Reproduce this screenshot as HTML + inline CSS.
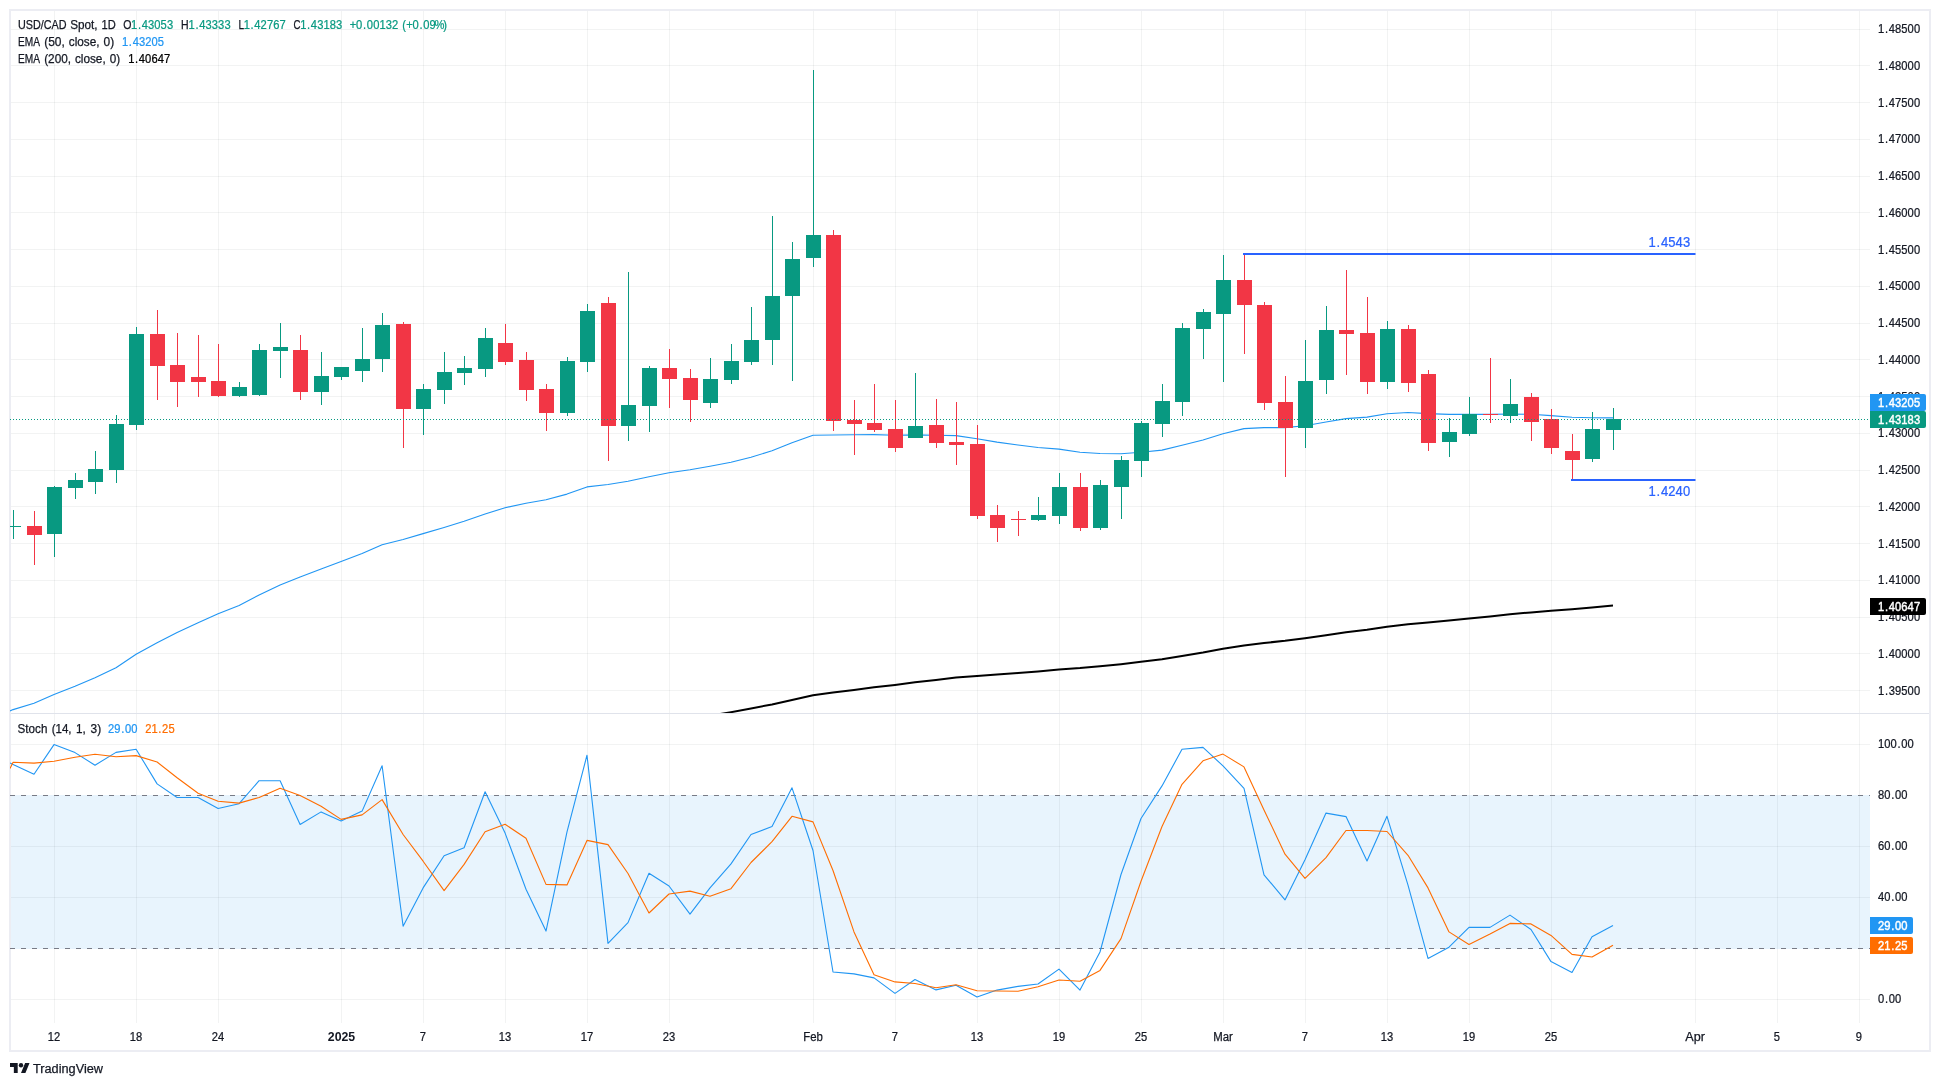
<!DOCTYPE html>
<html><head><meta charset="utf-8"><title>USD/CAD Spot 1D</title>
<style>html,body{margin:0;padding:0;background:#fff;}body{width:1940px;height:1086px;overflow:hidden;}svg{display:block;will-change:transform;}text{font-family:"Liberation Sans", sans-serif;paint-order:stroke;stroke-linejoin:round;}</style>
</head><body>
<svg width="1940" height="1086" viewBox="0 0 1940 1086">
<rect width="1940" height="1086" fill="#ffffff"/>
<defs><clipPath id="cm"><rect x="10" y="11" width="1860" height="702"/></clipPath><clipPath id="cs"><rect x="10" y="714" width="1860" height="309"/></clipPath></defs>
<rect x="10" y="10" width="1920" height="1041" fill="none" stroke="#ecedf3" stroke-width="2" shape-rendering="crispEdges"/>
<rect x="11" y="795" width="1859" height="154" fill="#e8f4fd"/>
<g shape-rendering="crispEdges" fill="rgba(42,46,57,0.06)">
<rect x="54" y="11" width="1" height="1012"/>
<rect x="136" y="11" width="1" height="1012"/>
<rect x="218" y="11" width="1" height="1012"/>
<rect x="341" y="11" width="1" height="1012"/>
<rect x="423" y="11" width="1" height="1012"/>
<rect x="505" y="11" width="1" height="1012"/>
<rect x="587" y="11" width="1" height="1012"/>
<rect x="669" y="11" width="1" height="1012"/>
<rect x="813" y="11" width="1" height="1012"/>
<rect x="895" y="11" width="1" height="1012"/>
<rect x="977" y="11" width="1" height="1012"/>
<rect x="1059" y="11" width="1" height="1012"/>
<rect x="1141" y="11" width="1" height="1012"/>
<rect x="1223" y="11" width="1" height="1012"/>
<rect x="1305" y="11" width="1" height="1012"/>
<rect x="1387" y="11" width="1" height="1012"/>
<rect x="1469" y="11" width="1" height="1012"/>
<rect x="1551" y="11" width="1" height="1012"/>
<rect x="1695" y="11" width="1" height="1012"/>
<rect x="1777" y="11" width="1" height="1012"/>
<rect x="1859" y="11" width="1" height="1012"/>
<rect x="11" y="29" width="1859" height="1"/>
<rect x="11" y="65" width="1859" height="1"/>
<rect x="11" y="102" width="1859" height="1"/>
<rect x="11" y="139" width="1859" height="1"/>
<rect x="11" y="176" width="1859" height="1"/>
<rect x="11" y="212" width="1859" height="1"/>
<rect x="11" y="249" width="1859" height="1"/>
<rect x="11" y="286" width="1859" height="1"/>
<rect x="11" y="323" width="1859" height="1"/>
<rect x="11" y="359" width="1859" height="1"/>
<rect x="11" y="396" width="1859" height="1"/>
<rect x="11" y="433" width="1859" height="1"/>
<rect x="11" y="470" width="1859" height="1"/>
<rect x="11" y="506" width="1859" height="1"/>
<rect x="11" y="543" width="1859" height="1"/>
<rect x="11" y="580" width="1859" height="1"/>
<rect x="11" y="617" width="1859" height="1"/>
<rect x="11" y="653" width="1859" height="1"/>
<rect x="11" y="690" width="1859" height="1"/>
<rect x="11" y="744" width="1859" height="1"/>
<rect x="11" y="846" width="1859" height="1"/>
<rect x="11" y="897" width="1859" height="1"/>
<rect x="11" y="999" width="1859" height="1"/>
</g>
<rect x="11" y="713" width="1918" height="1" fill="#e0e3eb" shape-rendering="crispEdges"/>
<g clip-path="url(#cm)">
<polyline fill="none" stroke="#2196f3" stroke-width="1.1" stroke-linejoin="round" points="10.0,710.9 13.1,709.6 34.0,703.2 54.0,694.6 75.0,686.3 95.0,677.8 116.0,667.7 136.1,654.3 157.1,642.8 177.1,632.4 198.1,622.8 218.1,613.7 239.1,605.4 259.1,595.0 280.1,584.9 300.1,576.9 321.1,569.1 341.1,561.4 362.1,553.6 382.1,544.8 403.1,539.5 423.1,533.6 444.1,527.5 464.1,521.3 485.1,514.1 505.1,507.7 526.0,503.2 546.0,499.7 567.0,494.1 587.0,486.9 608.0,484.5 628.0,481.3 649.0,476.7 669.0,472.7 690.0,469.8 710.0,466.3 731.0,462.3 751.0,457.2 772.0,450.8 792.0,442.8 813.0,435.3 833.0,435.0 854.0,434.8 874.0,434.6 895.0,435.2 915.0,434.9 936.0,435.2 956.0,435.6 977.0,438.8 997.0,442.1 1018.0,445.0 1038.0,447.5 1059.0,449.1 1080.0,452.2 1100.0,453.5 1121.0,453.7 1141.0,452.3 1162.0,450.1 1182.0,445.3 1203.0,440.0 1223.0,433.7 1244.0,428.6 1264.0,427.6 1285.0,427.6 1305.0,425.8 1326.0,422.0 1346.0,418.6 1367.0,417.1 1387.0,413.7 1408.0,412.5 1428.0,413.6 1449.0,414.4 1469.0,414.4 1490.0,414.4 1510.0,414.0 1531.0,414.3 1551.0,415.6 1572.0,417.3 1592.0,417.8 1613.0,417.9"/>
<polyline fill="none" stroke="#000000" stroke-width="2" stroke-linejoin="round" points="649.0,725.8 669.0,722.3 690.0,719.1 710.0,715.7 731.0,712.2 751.0,708.5 772.0,704.4 792.0,699.9 813.0,695.3 833.0,692.6 854.0,689.9 874.0,687.3 895.0,684.9 915.0,682.3 936.0,679.9 956.0,677.6 977.0,676.0 997.0,674.5 1018.0,673.0 1038.0,671.4 1059.0,669.5 1080.0,668.1 1100.0,666.3 1121.0,664.2 1141.0,661.8 1162.0,659.2 1182.0,655.9 1203.0,652.5 1223.0,648.8 1244.0,645.4 1264.0,643.0 1285.0,640.8 1305.0,638.2 1326.0,635.2 1346.0,632.2 1367.0,629.7 1387.0,626.7 1408.0,624.2 1428.0,622.4 1449.0,620.5 1469.0,618.5 1490.0,616.4 1510.0,614.3 1531.0,612.4 1551.0,610.8 1572.0,609.3 1592.0,607.5 1613.0,605.6"/>
<g shape-rendering="crispEdges">
<rect x="13" y="510" width="1" height="29" fill="#089981"/>
<rect x="6" y="526" width="15" height="1" fill="#089981"/>
<rect x="34" y="511" width="1" height="54" fill="#f23645"/>
<rect x="27" y="526" width="15" height="9" fill="#f23645"/>
<rect x="54" y="486" width="1" height="71" fill="#089981"/>
<rect x="47" y="487" width="15" height="47" fill="#089981"/>
<rect x="75" y="473" width="1" height="26" fill="#089981"/>
<rect x="68" y="480" width="15" height="8" fill="#089981"/>
<rect x="95" y="451" width="1" height="43" fill="#089981"/>
<rect x="88" y="469" width="15" height="13" fill="#089981"/>
<rect x="116" y="415" width="1" height="68" fill="#089981"/>
<rect x="109" y="424" width="15" height="46" fill="#089981"/>
<rect x="136" y="327" width="1" height="103" fill="#089981"/>
<rect x="129" y="334" width="15" height="91" fill="#089981"/>
<rect x="157" y="310" width="1" height="90" fill="#f23645"/>
<rect x="150" y="334" width="15" height="32" fill="#f23645"/>
<rect x="177" y="333" width="1" height="74" fill="#f23645"/>
<rect x="170" y="365" width="15" height="17" fill="#f23645"/>
<rect x="198" y="335" width="1" height="62" fill="#f23645"/>
<rect x="191" y="377" width="15" height="5" fill="#f23645"/>
<rect x="218" y="344" width="1" height="53" fill="#f23645"/>
<rect x="211" y="381" width="15" height="15" fill="#f23645"/>
<rect x="239" y="382" width="1" height="15" fill="#089981"/>
<rect x="232" y="387" width="15" height="9" fill="#089981"/>
<rect x="259" y="344" width="1" height="52" fill="#089981"/>
<rect x="252" y="350" width="15" height="45" fill="#089981"/>
<rect x="280" y="323" width="1" height="55" fill="#089981"/>
<rect x="273" y="347" width="15" height="4" fill="#089981"/>
<rect x="300" y="335" width="1" height="65" fill="#f23645"/>
<rect x="293" y="350" width="15" height="42" fill="#f23645"/>
<rect x="321" y="352" width="1" height="53" fill="#089981"/>
<rect x="314" y="376" width="15" height="16" fill="#089981"/>
<rect x="341" y="367" width="1" height="13" fill="#089981"/>
<rect x="334" y="367" width="15" height="10" fill="#089981"/>
<rect x="362" y="328" width="1" height="54" fill="#089981"/>
<rect x="355" y="359" width="15" height="12" fill="#089981"/>
<rect x="382" y="313" width="1" height="59" fill="#089981"/>
<rect x="375" y="325" width="15" height="34" fill="#089981"/>
<rect x="403" y="322" width="1" height="126" fill="#f23645"/>
<rect x="396" y="324" width="15" height="85" fill="#f23645"/>
<rect x="423" y="384" width="1" height="51" fill="#089981"/>
<rect x="416" y="389" width="15" height="20" fill="#089981"/>
<rect x="444" y="352" width="1" height="52" fill="#089981"/>
<rect x="437" y="372" width="15" height="18" fill="#089981"/>
<rect x="464" y="356" width="1" height="29" fill="#089981"/>
<rect x="457" y="368" width="15" height="5" fill="#089981"/>
<rect x="485" y="328" width="1" height="49" fill="#089981"/>
<rect x="478" y="338" width="15" height="31" fill="#089981"/>
<rect x="505" y="324" width="1" height="41" fill="#f23645"/>
<rect x="498" y="343" width="15" height="19" fill="#f23645"/>
<rect x="526" y="352" width="1" height="49" fill="#f23645"/>
<rect x="519" y="360" width="15" height="30" fill="#f23645"/>
<rect x="546" y="384" width="1" height="47" fill="#f23645"/>
<rect x="539" y="389" width="15" height="24" fill="#f23645"/>
<rect x="567" y="357" width="1" height="59" fill="#089981"/>
<rect x="560" y="361" width="15" height="52" fill="#089981"/>
<rect x="587" y="304" width="1" height="68" fill="#089981"/>
<rect x="580" y="311" width="15" height="51" fill="#089981"/>
<rect x="608" y="297" width="1" height="164" fill="#f23645"/>
<rect x="601" y="303" width="15" height="123" fill="#f23645"/>
<rect x="628" y="272" width="1" height="169" fill="#089981"/>
<rect x="621" y="405" width="15" height="21" fill="#089981"/>
<rect x="649" y="366" width="1" height="66" fill="#089981"/>
<rect x="642" y="368" width="15" height="38" fill="#089981"/>
<rect x="669" y="349" width="1" height="59" fill="#f23645"/>
<rect x="662" y="368" width="15" height="11" fill="#f23645"/>
<rect x="690" y="369" width="1" height="53" fill="#f23645"/>
<rect x="683" y="378" width="15" height="22" fill="#f23645"/>
<rect x="710" y="358" width="1" height="50" fill="#089981"/>
<rect x="703" y="379" width="15" height="24" fill="#089981"/>
<rect x="731" y="344" width="1" height="40" fill="#089981"/>
<rect x="724" y="361" width="15" height="19" fill="#089981"/>
<rect x="751" y="307" width="1" height="58" fill="#089981"/>
<rect x="744" y="340" width="15" height="22" fill="#089981"/>
<rect x="772" y="216" width="1" height="149" fill="#089981"/>
<rect x="765" y="296" width="15" height="44" fill="#089981"/>
<rect x="792" y="242" width="1" height="139" fill="#089981"/>
<rect x="785" y="259" width="15" height="37" fill="#089981"/>
<rect x="813" y="70" width="1" height="197" fill="#089981"/>
<rect x="806" y="235" width="15" height="23" fill="#089981"/>
<rect x="833" y="230" width="1" height="201" fill="#f23645"/>
<rect x="826" y="235" width="15" height="186" fill="#f23645"/>
<rect x="854" y="400" width="1" height="55" fill="#f23645"/>
<rect x="847" y="420" width="15" height="4" fill="#f23645"/>
<rect x="874" y="384" width="1" height="48" fill="#f23645"/>
<rect x="867" y="423" width="15" height="7" fill="#f23645"/>
<rect x="895" y="400" width="1" height="52" fill="#f23645"/>
<rect x="888" y="429" width="15" height="19" fill="#f23645"/>
<rect x="915" y="373" width="1" height="65" fill="#089981"/>
<rect x="908" y="426" width="15" height="12" fill="#089981"/>
<rect x="936" y="399" width="1" height="49" fill="#f23645"/>
<rect x="929" y="425" width="15" height="18" fill="#f23645"/>
<rect x="956" y="402" width="1" height="63" fill="#f23645"/>
<rect x="949" y="442" width="15" height="3" fill="#f23645"/>
<rect x="977" y="425" width="1" height="94" fill="#f23645"/>
<rect x="970" y="444" width="15" height="72" fill="#f23645"/>
<rect x="997" y="505" width="1" height="37" fill="#f23645"/>
<rect x="990" y="515" width="15" height="13" fill="#f23645"/>
<rect x="1018" y="511" width="1" height="25" fill="#f23645"/>
<rect x="1011" y="519" width="15" height="1" fill="#f23645"/>
<rect x="1038" y="497" width="1" height="24" fill="#089981"/>
<rect x="1031" y="515" width="15" height="5" fill="#089981"/>
<rect x="1059" y="473" width="1" height="51" fill="#089981"/>
<rect x="1052" y="487" width="15" height="29" fill="#089981"/>
<rect x="1080" y="473" width="1" height="58" fill="#f23645"/>
<rect x="1073" y="487" width="15" height="41" fill="#f23645"/>
<rect x="1100" y="480" width="1" height="50" fill="#089981"/>
<rect x="1093" y="485" width="15" height="43" fill="#089981"/>
<rect x="1121" y="456" width="1" height="63" fill="#089981"/>
<rect x="1114" y="460" width="15" height="27" fill="#089981"/>
<rect x="1141" y="421" width="1" height="56" fill="#089981"/>
<rect x="1134" y="423" width="15" height="38" fill="#089981"/>
<rect x="1162" y="384" width="1" height="53" fill="#089981"/>
<rect x="1155" y="401" width="15" height="23" fill="#089981"/>
<rect x="1182" y="323" width="1" height="93" fill="#089981"/>
<rect x="1175" y="328" width="15" height="74" fill="#089981"/>
<rect x="1203" y="309" width="1" height="50" fill="#089981"/>
<rect x="1196" y="312" width="15" height="17" fill="#089981"/>
<rect x="1223" y="255" width="1" height="127" fill="#089981"/>
<rect x="1216" y="280" width="15" height="34" fill="#089981"/>
<rect x="1244" y="254" width="1" height="100" fill="#f23645"/>
<rect x="1237" y="280" width="15" height="25" fill="#f23645"/>
<rect x="1264" y="302" width="1" height="108" fill="#f23645"/>
<rect x="1257" y="305" width="15" height="98" fill="#f23645"/>
<rect x="1285" y="376" width="1" height="101" fill="#f23645"/>
<rect x="1278" y="402" width="15" height="26" fill="#f23645"/>
<rect x="1305" y="340" width="1" height="108" fill="#089981"/>
<rect x="1298" y="381" width="15" height="47" fill="#089981"/>
<rect x="1326" y="306" width="1" height="88" fill="#089981"/>
<rect x="1319" y="330" width="15" height="50" fill="#089981"/>
<rect x="1346" y="270" width="1" height="105" fill="#f23645"/>
<rect x="1339" y="330" width="15" height="4" fill="#f23645"/>
<rect x="1367" y="297" width="1" height="97" fill="#f23645"/>
<rect x="1360" y="333" width="15" height="49" fill="#f23645"/>
<rect x="1387" y="321" width="1" height="68" fill="#089981"/>
<rect x="1380" y="329" width="15" height="53" fill="#089981"/>
<rect x="1408" y="325" width="1" height="67" fill="#f23645"/>
<rect x="1401" y="329" width="15" height="54" fill="#f23645"/>
<rect x="1428" y="370" width="1" height="81" fill="#f23645"/>
<rect x="1421" y="374" width="15" height="69" fill="#f23645"/>
<rect x="1449" y="418" width="1" height="39" fill="#089981"/>
<rect x="1442" y="432" width="15" height="10" fill="#089981"/>
<rect x="1469" y="397" width="1" height="39" fill="#089981"/>
<rect x="1462" y="414" width="15" height="20" fill="#089981"/>
<rect x="1490" y="358" width="1" height="65" fill="#f23645"/>
<rect x="1483" y="414" width="15" height="1" fill="#f23645"/>
<rect x="1510" y="379" width="1" height="44" fill="#089981"/>
<rect x="1503" y="404" width="15" height="12" fill="#089981"/>
<rect x="1531" y="393" width="1" height="48" fill="#f23645"/>
<rect x="1524" y="397" width="15" height="25" fill="#f23645"/>
<rect x="1551" y="409" width="1" height="45" fill="#f23645"/>
<rect x="1544" y="419" width="15" height="29" fill="#f23645"/>
<rect x="1572" y="434" width="1" height="46" fill="#f23645"/>
<rect x="1565" y="451" width="15" height="9" fill="#f23645"/>
<rect x="1592" y="412" width="1" height="50" fill="#089981"/>
<rect x="1585" y="429" width="15" height="30" fill="#089981"/>
<rect x="1613" y="408" width="1" height="42" fill="#089981"/>
<rect x="1606" y="419" width="15" height="11" fill="#089981"/>
</g>
<line x1="10" y1="419.5" x2="1870" y2="419.5" stroke="#089981" stroke-width="1" stroke-dasharray="1 2" shape-rendering="crispEdges"/>
<rect x="1243" y="253" width="452.5" height="2" fill="#2962ff"/>
<rect x="1571" y="479" width="124.5" height="2" fill="#2962ff"/>
</g>
<text transform="scale(0.93,1)" x="1772.53 1781.18 1785.94 1793.84 1801.73 1809.63" y="247" font-size="14" fill="#2962ff" stroke="#2962ff" stroke-width="0.25">1.4543</text>
<text transform="scale(0.93,1)" x="1772.53 1781.18 1785.94 1793.84 1801.73 1809.63" y="496" font-size="14" fill="#2962ff" stroke="#2962ff" stroke-width="0.25">1.4240</text>
<g clip-path="url(#cs)">
<g shape-rendering="crispEdges" stroke="#787b86" stroke-width="1" stroke-dasharray="5 6">
<line x1="10" y1="795.5" x2="1870" y2="795.5"/>
<line x1="10" y1="948.5" x2="1870" y2="948.5"/>
</g>
<polyline fill="none" stroke="#2196f3" stroke-width="1.1" stroke-linejoin="round" points="10.0,763.0 13.1,764.4 34.0,774.3 54.0,744.6 75.0,752.6 95.0,765.2 116.0,752.4 136.1,749.2 157.1,783.9 177.1,797.5 198.1,797.5 218.1,808.5 239.1,803.7 259.1,780.7 280.1,780.7 300.1,824.5 321.1,811.9 341.1,821.0 362.1,811.1 382.1,765.7 403.1,926.2 423.1,887.9 444.1,855.8 464.1,847.8 485.1,791.8 505.1,833.1 526.0,889.2 546.0,931.1 567.0,831.8 587.0,755.2 608.0,943.4 628.0,922.6 649.0,873.2 669.0,886.0 690.0,914.1 710.0,887.9 731.0,863.9 751.0,834.5 772.0,826.5 792.0,787.8 813.0,850.5 833.0,972.0 854.0,973.9 874.0,977.9 895.0,993.4 915.0,979.5 936.0,989.9 956.0,985.3 977.0,997.1 997.0,990.1 1018.0,986.4 1038.0,984.0 1059.0,969.1 1080.0,990.1 1100.0,952.0 1121.0,874.5 1141.0,818.5 1162.0,785.9 1182.0,749.3 1203.0,747.4 1223.0,765.9 1244.0,788.3 1264.0,874.8 1285.0,899.9 1305.0,859.8 1326.0,813.1 1346.0,816.6 1367.0,860.9 1387.0,816.3 1408.0,885.2 1428.0,958.4 1449.0,947.2 1469.0,927.4 1490.0,927.4 1510.0,915.1 1531.0,929.5 1551.0,961.6 1572.0,972.5 1592.0,936.7 1613.0,925.5"/>
<polyline fill="none" stroke="#ff6d00" stroke-width="1.1" stroke-linejoin="round" points="10.0,768.4 13.1,762.3 34.0,763.1 54.0,761.2 75.0,757.2 95.0,754.3 116.0,756.7 136.1,755.6 157.1,762.0 177.1,777.8 198.1,793.2 218.1,801.2 239.1,803.1 259.1,797.5 280.1,788.2 300.1,795.4 321.1,806.3 341.1,819.4 362.1,814.9 382.1,799.6 403.1,834.5 423.1,861.2 444.1,890.6 464.1,864.4 485.1,831.8 505.1,824.3 526.0,838.2 546.0,884.4 567.0,884.9 587.0,840.4 608.0,844.6 628.0,873.5 649.0,913.0 669.0,894.0 690.0,891.1 710.0,896.2 731.0,888.7 751.0,862.5 772.0,841.7 792.0,816.3 813.0,821.9 833.0,870.5 854.0,931.9 874.0,974.7 895.0,981.9 915.0,983.5 936.0,987.8 956.0,984.8 977.0,990.7 997.0,991.0 1018.0,991.2 1038.0,986.7 1059.0,980.0 1080.0,981.3 1100.0,970.4 1121.0,938.6 1141.0,881.2 1162.0,826.5 1182.0,784.3 1203.0,760.8 1223.0,754.1 1244.0,766.9 1264.0,809.9 1285.0,854.2 1305.0,878.3 1326.0,857.7 1346.0,830.5 1367.0,830.5 1387.0,831.5 1408.0,855.3 1428.0,887.9 1449.0,931.9 1469.0,944.5 1490.0,934.1 1510.0,923.4 1531.0,923.9 1551.0,935.4 1572.0,954.4 1592.0,957.0 1613.0,945.3"/>
</g>
<g font-size="12" fill="#131722" stroke="#131722" stroke-width="0.25">
<text transform="scale(0.93,1)" x="2019.40 2026.82 2030.90 2037.67 2044.43 2051.20 2057.97" y="33" font-size="12" fill="#131722" stroke="#131722" stroke-width="0.25">1.48500</text>
<text transform="scale(0.93,1)" x="2019.40 2026.82 2030.90 2037.67 2044.43 2051.20 2057.97" y="70" font-size="12" fill="#131722" stroke="#131722" stroke-width="0.25">1.48000</text>
<text transform="scale(0.93,1)" x="2019.40 2026.82 2030.90 2037.67 2044.43 2051.20 2057.97" y="107" font-size="12" fill="#131722" stroke="#131722" stroke-width="0.25">1.47500</text>
<text transform="scale(0.93,1)" x="2019.40 2026.82 2030.90 2037.67 2044.43 2051.20 2057.97" y="143" font-size="12" fill="#131722" stroke="#131722" stroke-width="0.25">1.47000</text>
<text transform="scale(0.93,1)" x="2019.40 2026.82 2030.90 2037.67 2044.43 2051.20 2057.97" y="180" font-size="12" fill="#131722" stroke="#131722" stroke-width="0.25">1.46500</text>
<text transform="scale(0.93,1)" x="2019.40 2026.82 2030.90 2037.67 2044.43 2051.20 2057.97" y="217" font-size="12" fill="#131722" stroke="#131722" stroke-width="0.25">1.46000</text>
<text transform="scale(0.93,1)" x="2019.40 2026.82 2030.90 2037.67 2044.43 2051.20 2057.97" y="254" font-size="12" fill="#131722" stroke="#131722" stroke-width="0.25">1.45500</text>
<text transform="scale(0.93,1)" x="2019.40 2026.82 2030.90 2037.67 2044.43 2051.20 2057.97" y="290" font-size="12" fill="#131722" stroke="#131722" stroke-width="0.25">1.45000</text>
<text transform="scale(0.93,1)" x="2019.40 2026.82 2030.90 2037.67 2044.43 2051.20 2057.97" y="327" font-size="12" fill="#131722" stroke="#131722" stroke-width="0.25">1.44500</text>
<text transform="scale(0.93,1)" x="2019.40 2026.82 2030.90 2037.67 2044.43 2051.20 2057.97" y="364" font-size="12" fill="#131722" stroke="#131722" stroke-width="0.25">1.44000</text>
<text transform="scale(0.93,1)" x="2019.40 2026.82 2030.90 2037.67 2044.43 2051.20 2057.97" y="401" font-size="12" fill="#131722" stroke="#131722" stroke-width="0.25">1.43500</text>
<text transform="scale(0.93,1)" x="2019.40 2026.82 2030.90 2037.67 2044.43 2051.20 2057.97" y="437" font-size="12" fill="#131722" stroke="#131722" stroke-width="0.25">1.43000</text>
<text transform="scale(0.93,1)" x="2019.40 2026.82 2030.90 2037.67 2044.43 2051.20 2057.97" y="474" font-size="12" fill="#131722" stroke="#131722" stroke-width="0.25">1.42500</text>
<text transform="scale(0.93,1)" x="2019.40 2026.82 2030.90 2037.67 2044.43 2051.20 2057.97" y="511" font-size="12" fill="#131722" stroke="#131722" stroke-width="0.25">1.42000</text>
<text transform="scale(0.93,1)" x="2019.40 2026.82 2030.90 2037.67 2044.43 2051.20 2057.97" y="548" font-size="12" fill="#131722" stroke="#131722" stroke-width="0.25">1.41500</text>
<text transform="scale(0.93,1)" x="2019.40 2026.82 2030.90 2037.67 2044.43 2051.20 2057.97" y="584" font-size="12" fill="#131722" stroke="#131722" stroke-width="0.25">1.41000</text>
<text transform="scale(0.93,1)" x="2019.40 2026.82 2030.90 2037.67 2044.43 2051.20 2057.97" y="621" font-size="12" fill="#131722" stroke="#131722" stroke-width="0.25">1.40500</text>
<text transform="scale(0.93,1)" x="2019.40 2026.82 2030.90 2037.67 2044.43 2051.20 2057.97" y="658" font-size="12" fill="#131722" stroke="#131722" stroke-width="0.25">1.40000</text>
<text transform="scale(0.93,1)" x="2019.40 2026.82 2030.90 2037.67 2044.43 2051.20 2057.97" y="695" font-size="12" fill="#131722" stroke="#131722" stroke-width="0.25">1.39500</text>
<text transform="scale(0.93,1)" x="2019.40 2026.17 2032.93 2040.35 2044.43 2051.20" y="748" font-size="12" fill="#131722" stroke="#131722" stroke-width="0.25">100.00</text>
<text transform="scale(0.93,1)" x="2019.40 2026.17 2033.59 2037.67 2044.43" y="799" font-size="12" fill="#131722" stroke="#131722" stroke-width="0.25">80.00</text>
<text transform="scale(0.93,1)" x="2019.40 2026.17 2033.59 2037.67 2044.43" y="850" font-size="12" fill="#131722" stroke="#131722" stroke-width="0.25">60.00</text>
<text transform="scale(0.93,1)" x="2019.40 2026.17 2033.59 2037.67 2044.43" y="901" font-size="12" fill="#131722" stroke="#131722" stroke-width="0.25">40.00</text>
<text transform="scale(0.93,1)" x="2019.40 2026.17 2033.59 2037.67 2044.43" y="952" font-size="12" fill="#131722" stroke="#131722" stroke-width="0.25">20.00</text>
<text transform="scale(0.93,1)" x="2019.40 2026.82 2030.90 2037.67" y="1003" font-size="12" fill="#131722" stroke="#131722" stroke-width="0.25">0.00</text>
<text transform="scale(0.93,1)" x="51.24 58.00" y="1041" font-size="12" fill="#131722" stroke="#131722" stroke-width="0.25">12</text>
<text transform="scale(0.93,1)" x="139.41 146.18" y="1041" font-size="12" fill="#131722" stroke="#131722" stroke-width="0.25">18</text>
<text transform="scale(0.93,1)" x="227.58 234.35" y="1041" font-size="12" fill="#131722" stroke="#131722" stroke-width="0.25">24</text>
<text x="341.5" y="1041" text-anchor="middle" font-weight="bold" stroke="none" textLength="27.4" lengthAdjust="spacingAndGlyphs">2025</text>
<text transform="scale(0.93,1)" x="451.40" y="1041" font-size="12" fill="#131722" stroke="#131722" stroke-width="0.25">7</text>
<text transform="scale(0.93,1)" x="536.18 542.95" y="1041" font-size="12" fill="#131722" stroke="#131722" stroke-width="0.25">13</text>
<text transform="scale(0.93,1)" x="624.36 631.12" y="1041" font-size="12" fill="#131722" stroke="#131722" stroke-width="0.25">17</text>
<text transform="scale(0.93,1)" x="712.53 719.29" y="1041" font-size="12" fill="#131722" stroke="#131722" stroke-width="0.25">23</text>
<text x="813.1" y="1041" text-anchor="middle" textLength="19.6" lengthAdjust="spacingAndGlyphs">Feb</text>
<text transform="scale(0.93,1)" x="958.92" y="1041" font-size="12" fill="#131722" stroke="#131722" stroke-width="0.25">7</text>
<text transform="scale(0.93,1)" x="1043.71 1050.48" y="1041" font-size="12" fill="#131722" stroke="#131722" stroke-width="0.25">13</text>
<text transform="scale(0.93,1)" x="1131.88 1138.65" y="1041" font-size="12" fill="#131722" stroke="#131722" stroke-width="0.25">19</text>
<text transform="scale(0.93,1)" x="1220.05 1226.82" y="1041" font-size="12" fill="#131722" stroke="#131722" stroke-width="0.25">25</text>
<text x="1223.1" y="1041" text-anchor="middle" textLength="19.6" lengthAdjust="spacingAndGlyphs">Mar</text>
<text transform="scale(0.93,1)" x="1399.78" y="1041" font-size="12" fill="#131722" stroke="#131722" stroke-width="0.25">7</text>
<text transform="scale(0.93,1)" x="1484.57 1491.34" y="1041" font-size="12" fill="#131722" stroke="#131722" stroke-width="0.25">13</text>
<text transform="scale(0.93,1)" x="1572.74 1579.51" y="1041" font-size="12" fill="#131722" stroke="#131722" stroke-width="0.25">19</text>
<text transform="scale(0.93,1)" x="1660.92 1667.68" y="1041" font-size="12" fill="#131722" stroke="#131722" stroke-width="0.25">25</text>
<text x="1695.1" y="1041" text-anchor="middle" textLength="19.6" lengthAdjust="spacingAndGlyphs">Apr</text>
<text transform="scale(0.93,1)" x="1907.31" y="1041" font-size="12" fill="#131722" stroke="#131722" stroke-width="0.25">5</text>
<text transform="scale(0.93,1)" x="1995.48" y="1041" font-size="12" fill="#131722" stroke="#131722" stroke-width="0.25">9</text>
</g>
<path d="M1870 394h54a2 2 0 0 1 2 2v13a2 2 0 0 1 -2 2h-54z" fill="#2196f3"/>
<text transform="scale(0.93,1)" x="2019.40 2026.82 2030.90 2037.67 2044.43 2051.20 2057.97" y="407" font-size="12" fill="#ffffff" stroke="#ffffff" stroke-width="0.45">1.43205</text>
<path d="M1870 411h54a2 2 0 0 1 2 2v13a2 2 0 0 1 -2 2h-54z" fill="#089981"/>
<text transform="scale(0.93,1)" x="2019.40 2026.82 2030.90 2037.67 2044.43 2051.20 2057.97" y="424" font-size="12" fill="#ffffff" stroke="#ffffff" stroke-width="0.45">1.43183</text>
<path d="M1870 598h54a2 2 0 0 1 2 2v13a2 2 0 0 1 -2 2h-54z" fill="#000000"/>
<text transform="scale(0.93,1)" x="2019.40 2026.82 2030.90 2037.67 2044.43 2051.20 2057.97" y="611" font-size="12" fill="#ffffff" stroke="#ffffff" stroke-width="0.45">1.40647</text>
<path d="M1870 917h41a2 2 0 0 1 2 2v13a2 2 0 0 1 -2 2h-41z" fill="#2196f3"/>
<text transform="scale(0.93,1)" x="2019.40 2026.17 2033.59 2037.67 2044.43" y="930" font-size="12" fill="#ffffff" stroke="#ffffff" stroke-width="0.45">29.00</text>
<path d="M1870 937h41a2 2 0 0 1 2 2v13a2 2 0 0 1 -2 2h-41z" fill="#ff6d00"/>
<text transform="scale(0.93,1)" x="2019.40 2026.17 2033.59 2037.67 2044.43" y="950" font-size="12" fill="#ffffff" stroke="#ffffff" stroke-width="0.45">21.25</text>
<text x="18.0" y="29.0" font-size="12" fill="#131722" stroke="#131722" stroke-width="0.25" textLength="48.6" lengthAdjust="spacingAndGlyphs">USD/CAD</text>
<text x="70.2" y="29.0" font-size="12" fill="#131722" stroke="#131722" stroke-width="0.25" textLength="27.4" lengthAdjust="spacingAndGlyphs">Spot,</text>
<text x="101.6" y="29.0" font-size="12" fill="#131722" stroke="#131722" stroke-width="0.25" textLength="14.2" lengthAdjust="spacingAndGlyphs">1D</text>
<text x="123.2" y="29.0" font-size="12" fill="#131722" stroke="#131722" stroke-width="0.25" textLength="8.2" lengthAdjust="spacingAndGlyphs">O</text>
<text transform="scale(0.93,1)" x="140.91 148.32 152.41 159.17 165.94 172.70 179.47" y="29" font-size="12" fill="#089981" stroke="#089981" stroke-width="0.25">1.43053</text>
<text x="181.1" y="29.0" font-size="12" fill="#131722" stroke="#131722" stroke-width="0.25" textLength="7.6" lengthAdjust="spacingAndGlyphs">H</text>
<text transform="scale(0.93,1)" x="202.74 210.15 214.23 221.00 227.77 234.53 241.30" y="29" font-size="12" fill="#089981" stroke="#089981" stroke-width="0.25">1.43333</text>
<text x="238.6" y="29.0" font-size="12" fill="#131722" stroke="#131722" stroke-width="0.25" textLength="5.6" lengthAdjust="spacingAndGlyphs">L</text>
<text transform="scale(0.93,1)" x="261.98 269.40 273.48 280.25 287.01 293.78 300.55" y="29" font-size="12" fill="#089981" stroke="#089981" stroke-width="0.25">1.42767</text>
<text x="293.6" y="29.0" font-size="12" fill="#131722" stroke="#131722" stroke-width="0.25" textLength="7.0" lengthAdjust="spacingAndGlyphs">C</text>
<text transform="scale(0.93,1)" x="322.74 330.15 334.23 341.00 347.77 354.53 361.30" y="29" font-size="12" fill="#089981" stroke="#089981" stroke-width="0.25">1.43183</text>
<text transform="scale(0.93,1)" x="376.01 382.94 390.36 394.44 401.21 407.97 414.74 421.51 428.50 432.48 436.72 443.66 451.08 455.16 461.92 467.18 476.75" y="29" font-size="12" fill="#089981" stroke="#089981" stroke-width="0.25">+0.00132 (+0.09%)</text>
<text x="18.0" y="46.0" font-size="12" fill="#131722" stroke="#131722" stroke-width="0.25" textLength="22.0" lengthAdjust="spacingAndGlyphs">EMA</text>
<text x="44.2" y="46.0" font-size="12" fill="#131722" stroke="#131722" stroke-width="0.25" textLength="20.6" lengthAdjust="spacingAndGlyphs">(50,</text>
<text x="68.8" y="46.0" font-size="12" fill="#131722" stroke="#131722" stroke-width="0.25" textLength="30.8" lengthAdjust="spacingAndGlyphs">close,</text>
<text x="103.6" y="46.0" font-size="12" fill="#131722" stroke="#131722" stroke-width="0.25" textLength="10.6" lengthAdjust="spacingAndGlyphs">0)</text>
<text transform="scale(0.93,1)" x="131.12 138.54 142.62 149.39 156.15 162.92 169.69" y="46" font-size="12" fill="#2196f3" stroke="#2196f3" stroke-width="0.25">1.43205</text>
<text x="18.0" y="63.0" font-size="12" fill="#131722" stroke="#131722" stroke-width="0.25" textLength="22.0" lengthAdjust="spacingAndGlyphs">EMA</text>
<text x="44.2" y="63.0" font-size="12" fill="#131722" stroke="#131722" stroke-width="0.25" textLength="26.8" lengthAdjust="spacingAndGlyphs">(200,</text>
<text x="74.9" y="63.0" font-size="12" fill="#131722" stroke="#131722" stroke-width="0.25" textLength="30.8" lengthAdjust="spacingAndGlyphs">close,</text>
<text x="109.8" y="63.0" font-size="12" fill="#131722" stroke="#131722" stroke-width="0.25" textLength="10.4" lengthAdjust="spacingAndGlyphs">0)</text>
<text transform="scale(0.93,1)" x="137.79 145.21 149.29 156.05 162.82 169.59 176.35" y="63" font-size="12" fill="#000000" stroke="#000000" stroke-width="0.25">1.40647</text>
<text x="17.6" y="733.0" font-size="12" fill="#131722" stroke="#131722" stroke-width="0.25" textLength="29.8" lengthAdjust="spacingAndGlyphs">Stoch</text>
<text x="51.7" y="733.0" font-size="12" fill="#131722" stroke="#131722" stroke-width="0.25" textLength="19.9" lengthAdjust="spacingAndGlyphs">(14,</text>
<text x="76.0" y="733.0" font-size="12" fill="#131722" stroke="#131722" stroke-width="0.25" textLength="9.8" lengthAdjust="spacingAndGlyphs">1,</text>
<text x="90.6" y="733.0" font-size="12" fill="#131722" stroke="#131722" stroke-width="0.25" textLength="10.6" lengthAdjust="spacingAndGlyphs">3)</text>
<text transform="scale(0.93,1)" x="116.18 122.94 130.36 134.44 141.21" y="733" font-size="12" fill="#2196f3" stroke="#2196f3" stroke-width="0.25">29.00</text>
<text transform="scale(0.93,1)" x="156.07 162.84 170.25 174.33 181.10" y="733" font-size="12" fill="#ff6d00" stroke="#ff6d00" stroke-width="0.25">21.25</text>
<g transform="translate(10,1060.9) scale(0.55)" fill="#131722"><path d="M14 22H7V11H0V4h14v18zM28 22h-8l7.5-18h8L28 22z"/><circle cx="20" cy="8" r="4"/></g>
<text x="33.0" y="1073.0" font-size="12.5" fill="#131722" stroke="#131722" stroke-width="0.25" textLength="70.0" lengthAdjust="spacingAndGlyphs">TradingView</text>
</svg></body></html>
